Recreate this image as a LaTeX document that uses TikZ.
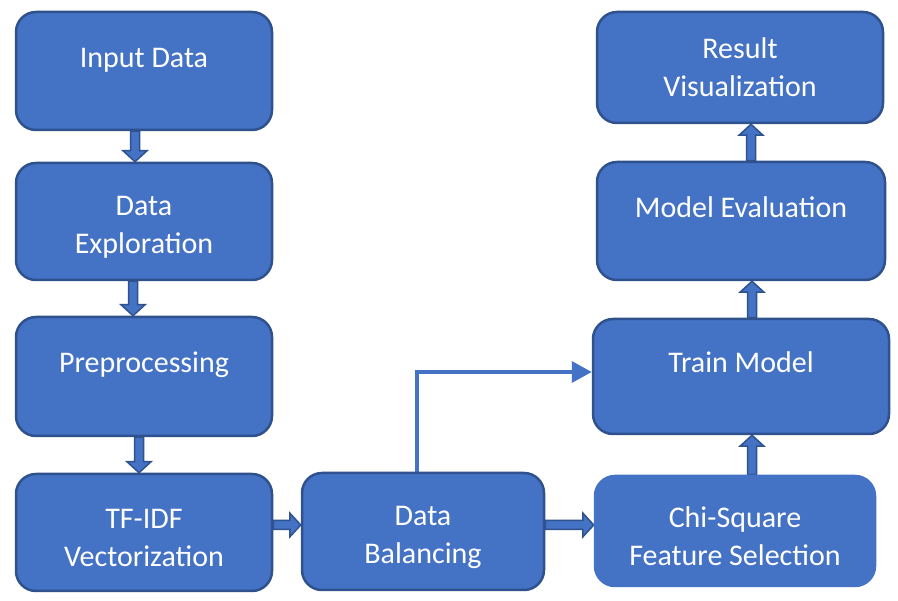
\documentclass[tikz,border=0pt]{standalone}
\usepackage{fontspec}
\setmainfont{Carlito}
\usetikzlibrary{calc,arrows.meta,backgrounds}
\definecolor{boxblue}{HTML}{4472C4}
\definecolor{boxdark}{HTML}{2F528F}
\newcommand\topstrut{\rule{0pt}{31pt}}
\tikzset{
  procbox/.style={rectangle, rounded corners=20pt, fill=boxblue, draw=boxdark,
    line width=2.5pt, text=white, align=center, inner sep=0pt,
    font=\fontsize{30}{38}\selectfont},
  blockarrow/.style={fill=boxblue, draw=boxdark, line width=1.5pt, line join=miter},
  thinarrow/.style={draw=boxblue, line width=3.5pt, -{Triangle[length=20pt,width=21pt]}}
}
\newcommand\blockarr[2]{%
  \draw[blockarrow] ($(#1)!4.5pt!90:(#2)$) -- ($($(#2)!11pt!(#1)$)!4.5pt!90:(#2)$)
   -- ($($(#2)!11pt!(#1)$)!12pt!90:(#2)$) -- (#2)
   -- ($($(#2)!11pt!(#1)$)!12pt!-90:(#2)$) -- ($($(#2)!11pt!(#1)$)!4.5pt!-90:(#2)$)
   -- ($(#1)!4.5pt!-90:(#2)$) -- cycle;}
\begin{document}
\begin{tikzpicture}[x=1pt,y=-1pt]
\begin{scope}[on background layer]
\fill[white] (0,0) rectangle (898,601);
\end{scope}
\useasboundingbox (0,0) rectangle (898,601);
% boxes
\node[procbox, minimum width=256pt, minimum height=118pt] (in) at (144,71) {\topstrut Input Data\\ \mbox{}};
\node[procbox, minimum width=256pt, minimum height=117pt] (expl) at (144,221.5) {\topstrut Data\\ Exploration};
\node[procbox, minimum width=256pt, minimum height=119pt] (prep) at (144,376.5) {\topstrut Preprocessing\\ \mbox{}};
\node[procbox, minimum width=256pt, minimum height=117pt] (tfidf) at (144,532.5) {\topstrut TF-IDF\\ Vectorization};
\node[procbox, minimum width=242pt, minimum height=117pt] (bal) at (423,531.5) {\topstrut Data\\ Balancing};
\node[procbox, draw=boxblue, minimum width=280pt, minimum height=110pt] (chi) at (735,531) {\topstrut Chi-Square\\ Feature Selection};
\node[procbox, minimum width=296pt, minimum height=115pt] (train) at (741,376.5) {\topstrut Train Model\\ \mbox{}};
\node[procbox, minimum width=288pt, minimum height=118pt] (eval) at (741,221) {\topstrut Model Evaluation\\ \mbox{}};
\node[procbox, minimum width=286pt, minimum height=111pt] (res) at (740,67.5) {Result\\ Visualization};
% connector end points
\coordinate (a1) at (in.south -| 135,0);
\coordinate (a2) at (expl.north -| 135,0);
\coordinate (b1) at (expl.south -| 133,0);
\coordinate (b2) at (prep.north -| 133,0);
\coordinate (c1) at (prep.south -| 139,0);
\coordinate (c2) at (tfidf.north -| 139,0);
\coordinate (d1) at (tfidf.east |- 0,525);
\coordinate (d2) at (bal.west |- 0,525);
\coordinate (e1) at (bal.east |- 0,525);
\coordinate (e2) at (chi.west |- 0,525);
\coordinate (f1) at (chi.north -| 752,0);
\coordinate (f2) at (train.south -| 752,0);
\coordinate (g1) at (train.north -| 752,0);
\coordinate (g2) at (eval.south -| 752,0);
\coordinate (h1) at (eval.north -| 751,0);
\coordinate (h2) at (res.south -| 751,0);
\coordinate (t1) at (bal.north -| 417,0);
\coordinate (t2) at (train.west |- 0,372);
\begin{scope}[on background layer]
\blockarr{a1}{a2}
\blockarr{b1}{b2}
\blockarr{c1}{c2}
\blockarr{d1}{d2}
\blockarr{e1}{e2}
\blockarr{f1}{f2}
\blockarr{g1}{g2}
\blockarr{h1}{h2}
\draw[thinarrow] (t1) |- (t2);
\end{scope}
\end{tikzpicture}
\end{document}
